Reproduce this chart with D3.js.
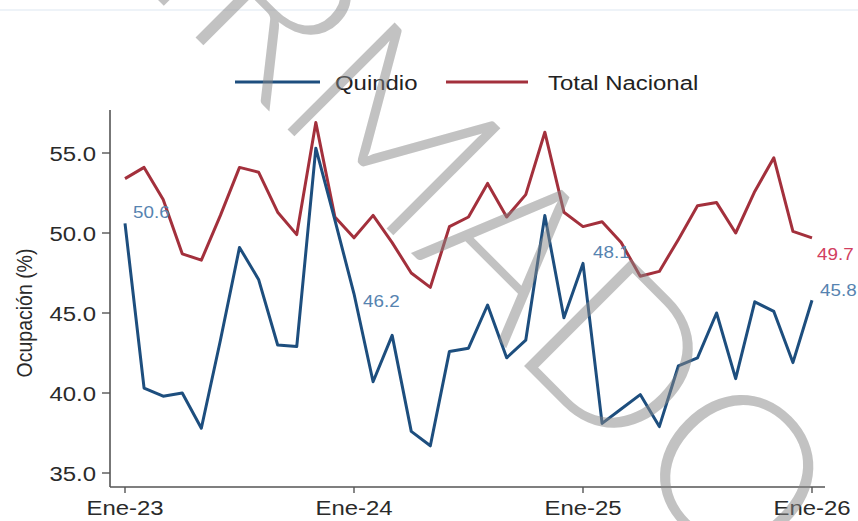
<!DOCTYPE html>
<html>
<head>
<meta charset="utf-8">
<script src="https://cdn.jsdelivr.net/npm/d3@7"></script>
<style>
  html, body { margin: 0; padding: 0; background: #ffffff; }
  svg { display: block; }
</style>
</head>
<body>
<svg id="chart" width="858" height="521"></svg>
<script>
// ---------------- DATA ----------------
const months = [
  "Ene-23","Feb-23","Mar-23","Abr-23","May-23","Jun-23","Jul-23","Ago-23","Sep-23","Oct-23","Nov-23","Dic-23",
  "Ene-24","Feb-24","Mar-24","Abr-24","May-24","Jun-24","Jul-24","Ago-24","Sep-24","Oct-24","Nov-24","Dic-24",
  "Ene-25","Feb-25","Mar-25","Abr-25","May-25","Jun-25","Jul-25","Ago-25","Sep-25","Oct-25","Nov-25","Dic-25",
  "Ene-26"
];
const quindio = [
  50.6, 40.3, 39.8, 40.0, 37.8, 43.3, 49.1, 47.1, 43.0, 42.9, 55.3, 50.8,
  46.2, 40.7, 43.6, 37.6, 36.7, 42.6, 42.8, 45.5, 42.2, 43.3, 51.1, 44.7,
  48.1, 38.1, 39.0, 39.9, 37.9, 41.7, 42.2, 45.0, 40.9, 45.7, 45.1, 41.9,
  45.8
];
const nacional = [
  53.4, 54.1, 52.1, 48.7, 48.3, 51.1, 54.1, 53.8, 51.3, 49.9, 56.9, 51.0,
  49.7, 51.1, 49.4, 47.5, 46.6, 50.4, 51.0, 53.1, 51.0, 52.4, 56.3, 51.3,
  50.4, 50.7, 49.4, 47.3, 47.6, 49.6, 51.7, 51.9, 50.0, 52.6, 54.7, 50.1,
  49.7
];
const seriesNames = ["Quindio", "Total Nacional"];
const yTicks = [35, 40, 45, 50, 55];
const xTickLabels = ["Ene-23", "Ene-24", "Ene-25", "Ene-26"];
const yTitle = "Ocupación (%)";
// labelled points: [series, month index]
const labelled = [["q", 0], ["q", 12], ["q", 24], ["q", 36], ["n", 36]];
const watermark = "CONFIRMADO";

// ---------------- STYLE ----------------
const BLUE = "#1d4e7e", RED = "#a3303c";
const BLUE_LAB = "#5683b0", RED_LAB = "#d23f5f";
const SX = 1.14;   // horizontal stretch of the original picture
const FONT = "'Liberation Sans', Arial, sans-serif";

const svg = d3.select("#chart");

// faint line at the top
svg.append("line").attr("x1", 0).attr("x2", 858).attr("y1", 10).attr("y2", 10)
  .attr("stroke", "#eef3f8").attr("stroke-width", 2);

// scales
const x = d3.scaleLinear().domain([0, months.length - 1]).range([125, 812]);
const y = d3.scaleLinear().domain([34.125, 57.6875]).range([487, 110]);
const X0 = 110, X1 = 825;

function stext(g, px, py, txt, o) {
  return g.append("text")
    .attr("transform", `translate(${px},${py}) scale(${SX},1)`)
    .attr("x", 0).attr("y", 0)
    .attr("text-anchor", o.anchor || "start")
    .attr("dy", o.dy || 0)
    .attr("font-family", FONT)
    .attr("font-size", o.size)
    .attr("fill", o.fill || "#222")
    .text(txt);
}

// axes
const axG = svg.append("g");
axG.append("line").attr("x1", X0).attr("x2", X0).attr("y1", y.range()[1]).attr("y2", y.range()[0])
  .attr("stroke", "#555").attr("stroke-width", 1.6);
axG.append("line").attr("x1", X0).attr("x2", X1).attr("y1", y.range()[0]).attr("y2", y.range()[0])
  .attr("stroke", "#555").attr("stroke-width", 1.6);

yTicks.forEach(v => {
  axG.append("line").attr("x1", X0 - 8).attr("x2", X0).attr("y1", y(v)).attr("y2", y(v))
    .attr("stroke", "#555").attr("stroke-width", 1.4);
  stext(axG, 96, y(v), d3.format(".1f")(v), { anchor: "end", dy: "0.36em", size: 21, fill: "#2a2a2a" });
});

xTickLabels.forEach(lab => {
  const i = months.indexOf(lab);
  axG.append("line").attr("x1", x(i)).attr("x2", x(i)).attr("y1", y.range()[0]).attr("y2", y.range()[0] + 6)
    .attr("stroke", "#555").attr("stroke-width", 1.4);
  stext(axG, x(i), 515, lab, { anchor: "middle", size: 21, fill: "#2a2a2a" });
});

// y title
svg.append("text")
  .attr("transform", `translate(32,313) rotate(-90) scale(1,${SX})`)
  .attr("text-anchor", "middle")
  .attr("font-family", FONT).attr("font-size", 19.5).attr("fill", "#2a2a2a")
  .text(yTitle);

// lines
const line = d3.line().x((d, i) => x(i)).y(d => y(d));
svg.append("path").datum(nacional).attr("d", line)
  .attr("fill", "none").attr("stroke", RED).attr("stroke-width", 3).attr("stroke-linejoin", "round");
svg.append("path").datum(quindio).attr("d", line)
  .attr("fill", "none").attr("stroke", BLUE).attr("stroke-width", 3).attr("stroke-linejoin", "round");

// data labels
const labOff = { "q0": [8, -11], "q12": [9, 7], "q24": [10, -11], "q36": [8, -10], "n36": [5, 16] };
labelled.forEach(([s, i]) => {
  const v = s === "q" ? quindio[i] : nacional[i];
  const off = labOff[s + i];
  stext(svg, x(i) + off[0], y(v) + off[1], d3.format(".1f")(v),
    { anchor: "start", dy: "0.36em", size: 16.5, fill: s === "q" ? BLUE_LAB : RED_LAB });
});

// legend
const lg = svg.append("g");
lg.append("line").attr("x1", 235).attr("x2", 320).attr("y1", 82).attr("y2", 82).attr("stroke", BLUE).attr("stroke-width", 3);
stext(lg, 335, 82, seriesNames[0], { anchor: "start", dy: "0.36em", size: 21, fill: "#222" });
lg.append("line").attr("x1", 446).attr("x2", 528).attr("y1", 82).attr("y2", 82).attr("stroke", RED).attr("stroke-width", 3);
stext(lg, 548, 82, seriesNames[1], { anchor: "start", dy: "0.36em", size: 21, fill: "#222" });

// watermark
svg.append("text")
  .attr("transform", "translate(743,585) rotate(45)")
  .attr("text-anchor", "end")
  .attr("font-family", "Lato, 'Open Sans', sans-serif")
  .attr("font-weight", 300)
  .attr("font-size", 214)
  .attr("fill", "#888").attr("fill-opacity", 0.51)
  .text(watermark);
</script>
</body>
</html>
